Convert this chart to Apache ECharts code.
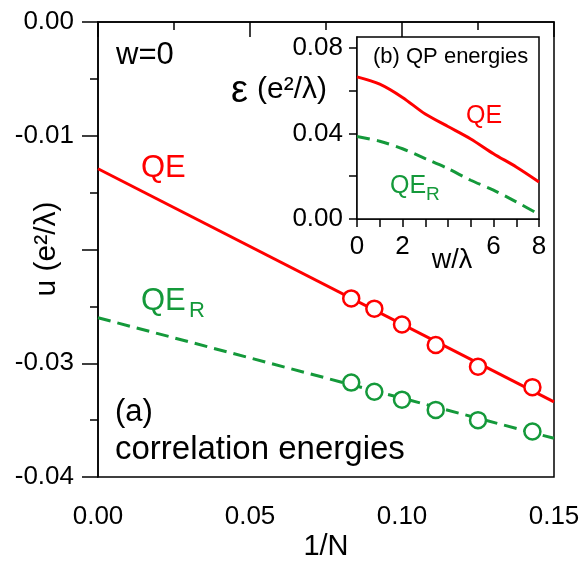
<!DOCTYPE html>
<html>
<head>
<meta charset="utf-8">
<script src="https://cdn.jsdelivr.net/npm/echarts@6/dist/echarts.min.js"></script>
<style>
html,body{margin:0;padding:0;background:#fff;}
#chart{width:583px;height:565px;}
</style>
</head>
<body>
<div id="chart"></div>
<script>
// ---- main panel (a): correlation energies vs 1/N ----
const invN = [0.0833, 0.0909, 0.1000, 0.1111, 0.1250, 0.1429];
const qeCorr = [-0.0243, -0.0252, -0.0266, -0.0284, -0.0303, -0.0321];
const qerCorr = [-0.0317, -0.0325, -0.0332, -0.0341, -0.0350, -0.0360];
const fitX = [0, 0.15];
const qeFit = [-0.0129, -0.0334];
const qerFit = [-0.0260, -0.0366];

// ---- inset (b): QP energies vs w/lambda ----
const wVals = [0, 1, 2, 3, 4, 5, 6, 7, 8];
const qeEnergy = [0.0664, 0.0630, 0.0568, 0.0490, 0.0432, 0.0374, 0.0305, 0.0243, 0.0173];
const qerEnergy = [0.0385, 0.0363, 0.0328, 0.0282, 0.0235, 0.0181, 0.0135, 0.0080, 0.0022];

const mainXLabels = [0, 0.05, 0.10, 0.15];
const mainYLabels = [0, -0.01, -0.03, -0.04];
const insetXLabels = [0, 2, 6, 8];
const insetYLabels = [0, 0.04, 0.08];
const insetYTicks = [0, 0.02, 0.04, 0.06, 0.08];

const RED = '#ff0000';
const GREEN = '#14993a';
const FONT = '"Liberation Sans", Arial, sans-serif';

const pairs = (xs, ys) => xs.map((x, i) => [x, ys[i]]);
const inList = (v, list) => list.some(t => Math.abs(t - v) < 1e-9);

const chart = echarts.init(document.getElementById('chart'), null, {renderer: 'canvas'});

const axisLine = {show: true, lineStyle: {color: '#000', width: 1.5}};

const option = {
  animation: false,
  backgroundColor: '#fff',
  textStyle: {fontFamily: FONT},
  grid: [
    {left: 98, top: 22, width: 456, height: 455, containLabel: false, outerBoundsMode: 'none',
     show: true, borderColor: '#000', borderWidth: 1.5, backgroundColor: 'transparent'},
    {left: 357, top: 37, width: 182, height: 182, containLabel: false, outerBoundsMode: 'none',
     show: true, borderColor: '#000', borderWidth: 1.5, backgroundColor: '#fff', z: 5}
  ],
  xAxis: [
    {
      gridIndex: 0, type: 'value', min: 0, max: 0.15, interval: 0.05,
      axisLine: axisLine,
      axisTick: {show: true, inside: false, length: 15, lineStyle: {color: '#000', width: 1.5}},
      minorTick: {show: true, splitNumber: 2, length: 8, lineStyle: {color: '#000', width: 1.5}},
      splitLine: {show: false},
      axisLabel: {
        margin: 27, color: '#000', fontSize: 26, fontFamily: FONT,
        formatter: v => inList(v, mainXLabels) ? v.toFixed(2) : ''
      },
      name: '1/N', nameLocation: 'middle', nameGap: 55, nameMoveOverlap: false,
      nameTextStyle: {fontSize: 29, color: '#000', fontFamily: FONT}
    },
    {
      gridIndex: 1, type: 'value', min: 0, max: 8, interval: 2,
      axisLine: axisLine,
      axisTick: {show: true, inside: false, length: 8, lineStyle: {color: '#000', width: 1.5}},
      minorTick: {show: true, splitNumber: 2, length: 8, lineStyle: {color: '#000', width: 1.5}},
      splitLine: {show: false},
      axisLabel: {
        margin: 15, color: '#000', fontSize: 26, fontFamily: FONT,
        formatter: v => inList(v, insetXLabels) ? String(v) : ''
      },
      name: 'w/λ', nameLocation: 'middle', nameGap: 28, nameMoveOverlap: false,
      nameTextStyle: {fontSize: 27, color: '#000', fontFamily: FONT, padding: [0, 0, 0, 8]}
    }
  ],
  yAxis: [
    {
      gridIndex: 0, type: 'value', min: -0.04, max: 0, interval: 0.01,
      axisLine: axisLine,
      axisTick: {show: true, inside: false, length: 16, lineStyle: {color: '#000', width: 1.5}},
      minorTick: {show: true, splitNumber: 2, length: 8, lineStyle: {color: '#000', width: 1.5}},
      splitLine: {show: false},
      axisLabel: {
        margin: 24, color: '#000', fontSize: 26, fontFamily: FONT,
        align: 'right', alignMinLabel: 'right', alignMaxLabel: 'right',
        formatter: v => inList(v, mainYLabels) ? (Math.abs(v) < 1e-12 ? '0.00' : v.toFixed(2)) : ''
      }
    },
    {
      gridIndex: 1, type: 'value', min: 0, max: 0.085,
      axisLine: axisLine,
      axisTick: {show: true, inside: false, length: 8, customValues: insetYTicks, lineStyle: {color: '#000', width: 1.5}},
      splitLine: {show: false},
      axisLabel: {
        margin: 14, color: '#000', fontSize: 26, fontFamily: FONT,
        align: 'right', alignMinLabel: 'right', alignMaxLabel: 'right',
        customValues: insetYLabels,
        formatter: v => v.toFixed(2)
      }
    }
  ],
  series: [
    {
      type: 'line', xAxisIndex: 0, yAxisIndex: 0, data: pairs(fitX, qeFit),
      showSymbol: false, symbol: 'none', lineStyle: {color: RED, width: 3}, z: 2
    },
    {
      type: 'line', xAxisIndex: 0, yAxisIndex: 0, data: pairs(fitX, qerFit),
      showSymbol: false, symbol: 'none', lineStyle: {color: GREEN, width: 3, type: [13, 7]}, z: 2
    },
    {
      type: 'scatter', xAxisIndex: 0, yAxisIndex: 0, data: pairs(invN, qeCorr),
      symbol: 'circle', symbolSize: 16,
      itemStyle: {color: '#fff', borderColor: RED, borderWidth: 2.5, opacity: 1}, z: 3
    },
    {
      type: 'scatter', xAxisIndex: 0, yAxisIndex: 0, data: pairs(invN, qerCorr),
      symbol: 'circle', symbolSize: 16,
      itemStyle: {color: '#fff', borderColor: GREEN, borderWidth: 2.5, opacity: 1}, z: 3
    },
    {
      type: 'line', xAxisIndex: 1, yAxisIndex: 1, data: pairs(wVals, qeEnergy),
      smooth: 0.3, showSymbol: false, symbol: 'none', lineStyle: {color: RED, width: 3}, z: 6
    },
    {
      type: 'line', xAxisIndex: 1, yAxisIndex: 1, data: pairs(wVals, qerEnergy),
      smooth: 0.3, showSymbol: false, symbol: 'none', lineStyle: {color: GREEN, width: 3, type: [13, 7]}, z: 6
    }
  ],
  graphic: [
    {type: 'text', x: 47, y: 249, rotation: Math.PI / 2, z: 10,
     style: {text: 'u (e²/λ)', font: '30px ' + FONT, fill: '#000', textAlign: 'center', textVerticalAlign: 'middle'}},
    {type: 'text', x: 116, y: 55, z: 10, style: {text: 'w=0', font: '31px ' + FONT, fill: '#000', textVerticalAlign: 'middle'}},
    {type: 'text', x: 141, y: 168, z: 10, style: {text: 'QE', font: '31px ' + FONT, fill: RED, textVerticalAlign: 'middle'}},
    {type: 'text', x: 141, y: 301, z: 10, style: {text: 'QE', font: '31px ' + FONT, fill: GREEN, textVerticalAlign: 'middle'}},
    {type: 'text', x: 189, y: 311, z: 10, style: {text: 'R', font: '22px ' + FONT, fill: GREEN, textVerticalAlign: 'middle'}},
    {type: 'text', x: 115, y: 412, z: 10, style: {text: '(a)', font: '31px ' + FONT, fill: '#000', textVerticalAlign: 'middle'}},
    {type: 'text', x: 115, y: 450, z: 10, style: {text: 'correlation energies', font: '33px ' + FONT, fill: '#000', textVerticalAlign: 'middle'}},
    {type: 'text', x: 373, y: 57, z: 20, style: {text: '(b) QP energies', font: '22px ' + FONT, fill: '#000', textVerticalAlign: 'middle'}},
    {type: 'text', x: 466, y: 116, z: 20, style: {text: 'QE', font: '25px ' + FONT, fill: RED, textVerticalAlign: 'middle'}},
    {type: 'text', x: 390, y: 186, z: 20, style: {text: 'QE', font: '25px ' + FONT, fill: GREEN, textVerticalAlign: 'middle'}},
    {type: 'text', x: 426, y: 195, z: 20, style: {text: 'R', font: '19px ' + FONT, fill: GREEN, textVerticalAlign: 'middle'}},
    {type: 'text', x: 231, y: 92, z: 20, style: {text: 'ε', font: '38px ' + FONT, fill: '#000', textVerticalAlign: 'middle'}},
    {type: 'text', x: 257, y: 90, z: 20, style: {text: '(e²/λ)', font: '30px ' + FONT, fill: '#000', textVerticalAlign: 'middle'}}
  ]
};
chart.setOption(option);
</script>
</body>
</html>
